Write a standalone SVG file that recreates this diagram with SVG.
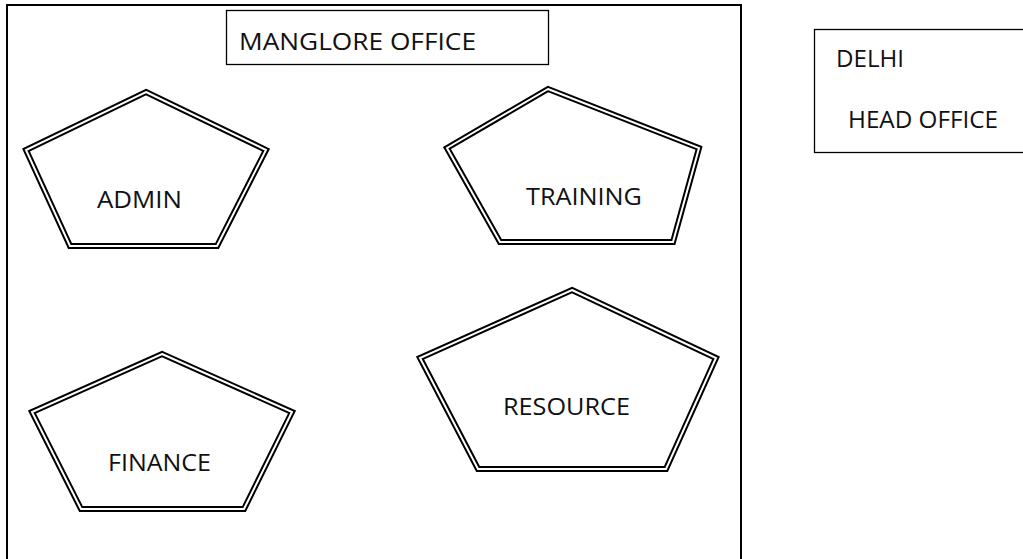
<svg xmlns="http://www.w3.org/2000/svg" width="1023" height="559" viewBox="0 0 1023 559">
<style>
.bg{fill:#fff}
.box{fill:none;stroke:#000;stroke-width:1.3}
.outer{fill:none;stroke:#000;stroke-width:2}
.pa{fill:#fff;stroke:#000;stroke-width:6;stroke-linejoin:miter}
.pb{fill:none;stroke:#fff;stroke-width:2;stroke-linejoin:miter}
text{font-family:"Open Sans","Liberation Sans",Arial,sans-serif;font-size:23px;fill:#111}
</style>
<rect class="bg" x="0" y="0" width="1023" height="559"/>
<g id="manglore-region">
<rect class="outer" x="7" y="5" width="734" height="562"/>
</g>
<g id="manglore-office">
<rect class="box" x="226.5" y="10.5" width="322" height="54"/>
<text x="239" y="50" textLength="237" lengthAdjust="spacingAndGlyphs">MANGLORE OFFICE</text>
</g>
<g id="delhi">
<rect class="box" x="814.5" y="29.5" width="220" height="123"/>
<text x="836" y="67" textLength="68" lengthAdjust="spacingAndGlyphs">DELHI</text>
<text x="848" y="128" textLength="150" lengthAdjust="spacingAndGlyphs">HEAD OFFICE</text>
</g>
<g id="admin">
<polygon class="pa" points="146,92 266,150 217,246 70,246 26,150"/>
<polygon class="pb" points="146,92 266,150 217,246 70,246 26,150"/>
<text x="97" y="208" textLength="85" lengthAdjust="spacingAndGlyphs">ADMIN</text>
</g>
<g id="training">
<polygon class="pa" points="548,89 699,148 673,242 500,242 447,148"/>
<polygon class="pb" points="548,89 699,148 673,242 500,242 447,148"/>
<text x="526" y="205" textLength="116" lengthAdjust="spacingAndGlyphs">TRAINING</text>
</g>
<g id="finance">
<polygon class="pa" points="162,354 292,412 244,509 81,509 32,412"/>
<polygon class="pb" points="162,354 292,412 244,509 81,509 32,412"/>
<text x="108" y="471" textLength="103" lengthAdjust="spacingAndGlyphs">FINANCE</text>
</g>
<g id="resource">
<polygon class="pa" points="572,290 716,358 666,469 478,469 420,358"/>
<polygon class="pb" points="572,290 716,358 666,469 478,469 420,358"/>
<text x="503" y="415" textLength="127" lengthAdjust="spacingAndGlyphs">RESOURCE</text>
</g>
<g id="connectors"></g>
</svg>
